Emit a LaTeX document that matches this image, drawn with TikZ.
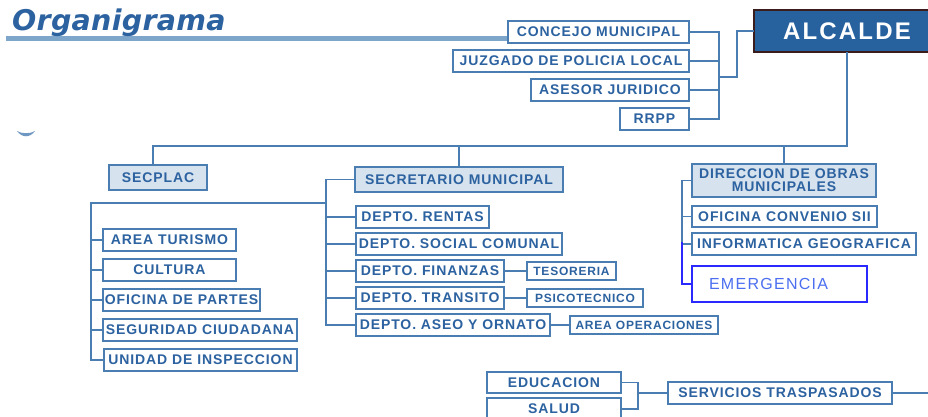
\documentclass[tikz,border=0pt]{standalone}
\usepackage{fontspec}
\usetikzlibrary{positioning}
\newfontfamily\orgfont[LetterSpace=6.5]{Liberation Sans}
\newfontfamily\chieffont[LetterSpace=9]{Liberation Sans}
\newfontfamily\emfont[LetterSpace=8]{Liberation Sans}
\newfontfamily\titlefont[LetterSpace=1]{DejaVu Sans}
\definecolor{orgtext}{HTML}{2C62A0}
\definecolor{orgline}{HTML}{4A7DB2}
\definecolor{orgfill}{HTML}{D6E2EE}
\definecolor{orgbar}{HTML}{7EA6CB}
\definecolor{chieffill}{HTML}{27629F}
\definecolor{chiefline}{HTML}{3A1C1C}
\definecolor{embox}{HTML}{2828FF}
\definecolor{emtext}{HTML}{4B6FF0}

\tikzset{
  unit/.style={draw=orgline, line width=1.6pt, fill=white, text=orgtext,
    font=\orgfont\bfseries\fontsize{14}{13}\selectfont,
    minimum height=22pt, inner sep=0pt, outer sep=0pt},
  lead/.style={unit, fill=orgfill, line width=2.4pt, minimum height=25pt},
  minor/.style={unit, font=\orgfont\bfseries\fontsize{12}{13}\selectfont, minimum height=18pt},
  chief/.style={draw=chiefline, line width=2.4pt, fill=chieffill, text=white,
    font=\chieffont\bfseries\fontsize{24}{26}\selectfont,
    minimum width=186pt, minimum height=42pt, inner sep=0pt, outer sep=0pt},
  emunit/.style={unit, draw=embox, text=emtext, font=\emfont\fontsize{16}{18}\selectfont},
  link/.style={draw=orgline, line width=1.2pt},
  emlink/.style={draw=embox, line width=1.2pt}
}

\begin{document}
\begin{tikzpicture}[x=1pt,y=-1pt]
  \useasboundingbox (0,0) rectangle (928,417);
  \clip (0,0) rectangle (928,417);

  % Title and bar
  \fill[orgbar] (6,36) rectangle (508,41);
  \node[anchor=base west, inner sep=0pt, text=orgtext,
    font=\titlefont\bfseries\itshape\fontsize{28.5}{30}\selectfont] (title) at (12,31) {Organigrama};
  \fill[orgline!80] (17,131) .. controls (22,138) and (30,138) .. (35,131)
    .. controls (30,134) and (22,134) .. (17,131);

  % Define nodes
  \node[chief] (alcalde) at (847,31) {ALCALDE};
  \node[unit, minimum width=181, anchor=east] (concejo) at (689,32) {CONCEJO MUNICIPAL};
  \node[unit, minimum width=236, below left=7pt and 0pt of concejo.south east] (juzgado) {JUZGADO DE POLICIA LOCAL};
  \node[unit, minimum width=158, below left=7pt and 0pt of juzgado.south east] (asesor) {ASESOR JURIDICO};
  \node[unit, minimum width=69, below left=7pt and 0pt of asesor.south east] (rrpp) {RRPP};

  \node[lead, minimum width=98] (secplac) at (158,177.5) {SECPLAC};
  \node[lead, minimum width=208] (secretario) at (459,179.5) {SECRETARIO MUNICIPAL};
  \node[lead, minimum width=184, minimum height=33, align=center] (direccion) at (784,180.5)
    {DIRECCION DE OBRAS\\MUNICIPALES};

  \node[unit, minimum width=133, below right=14pt and 1pt of secretario.south west] (rentas) {DEPTO. RENTAS};
  \node[unit, minimum width=206, below right=5pt and 0pt of rentas.south west] (social) {DEPTO. SOCIAL COMUNAL};
  \node[unit, minimum width=148, below right=5pt and 0pt of social.south west] (finanzas) {DEPTO. FINANZAS};
  \node[unit, minimum width=148, below right=5pt and 0pt of finanzas.south west] (transito) {DEPTO. TRANSITO};
  \node[unit, minimum width=194, below right=5pt and 0pt of transito.south west] (aseo) {DEPTO. ASEO Y ORNATO};
  \node[minor, minimum width=89, right=23pt of finanzas] (tesoreria) {TESORERIA};
  \node[minor, minimum width=116, right=23pt of transito] (psicotecnico) {PSICOTECNICO};
  \node[minor, minimum width=148, right=20pt of aseo] (operaciones) {AREA OPERACIONES};

  \node[unit, minimum width=133, anchor=north west] (turismo) at (103,229) {AREA TURISMO};
  \node[unit, minimum width=133, below right=8pt and 0pt of turismo.south west] (cultura) {CULTURA};
  \node[unit, minimum width=157, below right=8pt and 0pt of cultura.south west] (partes) {OFICINA DE PARTES};
  \node[unit, minimum width=194, below right=8pt and 0pt of partes.south west] (seguridad) {SEGURIDAD CIUDADANA};
  \node[unit, minimum width=193, below right=8pt and 1pt of seguridad.south west] (unidad) {UNIDAD DE INSPECCION};

  \node[unit, minimum width=185, minimum height=21, below right=9pt and 0pt of direccion.south west] (convenio) {OFICINA CONVENIO SII};
  \node[unit, minimum width=224, below right=6pt and 0pt of convenio.south west] (informatica) {INFORMATICA GEOGRAFICA};
  \node[emunit, minimum width=175, minimum height=36, text width=141, inner xsep=17pt, align=left,
    below right=11pt and 0pt of informatica.south west] (emergencia) {EMERGENCIA};

  \node[unit, minimum width=134, minimum height=21] (educacion) at (554,382.5) {EDUCACION};
  \node[unit, minimum width=134, below right=5pt and 0pt of educacion.south west] (salud) {SALUD};
  \node[unit, minimum width=224] (servicios) at (780,393) {SERVICIOS TRASPASADOS};

  % Connect the nodes
  \coordinate (advbus) at (719,0);
  \coordinate (advjoin) at (719,77);
  \draw[link] (concejo.east) -| (rrpp.east -| advbus) -- (rrpp.east);
  \foreach \n in {juzgado,asesor} \draw[link] (\n.east) -- (\n.east -| advbus);
  \draw[link] (advjoin) -- ++(18,0) |- (alcalde.west);

  \draw[link] (alcalde.south) -- ++(0,94) coordinate (hub) -| ([xshift=-5pt]secplac.north);
  \draw[link] (hub) -| (secretario.north);
  \draw[link] (hub) -| (direccion.north);

  \coordinate (smbus) at (326,203);
  \coordinate (spbus) at (91,203);
  \draw[link] (secretario.west) -| (aseo.west -| smbus) -- (aseo.west);
  \foreach \n in {rentas,social,finanzas,transito} \draw[link] (\n.west -| smbus) -- (\n.west);
  \draw[link] (smbus) -- (spbus) |- (unidad.west);
  \foreach \n in {turismo,cultura,partes,seguridad} \draw[link] (\n.west -| spbus) -- (\n.west);
  \draw[link] (finanzas) -- (tesoreria);
  \draw[link] (transito) -- (psicotecnico);
  \draw[link] (aseo) -- (operaciones);

  \coordinate (dobus) at (682,242);
  \draw[link] (direccion.west) -| (dobus);
  \foreach \n in {convenio,informatica} \draw[link] (\n.west -| dobus) -- (\n.west);
  \draw[emlink] (dobus) |- (emergencia.west);

  \coordinate (stbus) at (638,393);
  \draw[link] (educacion.east) -| (salud.east -| stbus) -- (salud.east);
  \draw[link] (stbus) -- (servicios.west);
  \draw[link] (servicios.east) -- ++(50,0) coordinate (offpage);
\end{tikzpicture}
\end{document}
